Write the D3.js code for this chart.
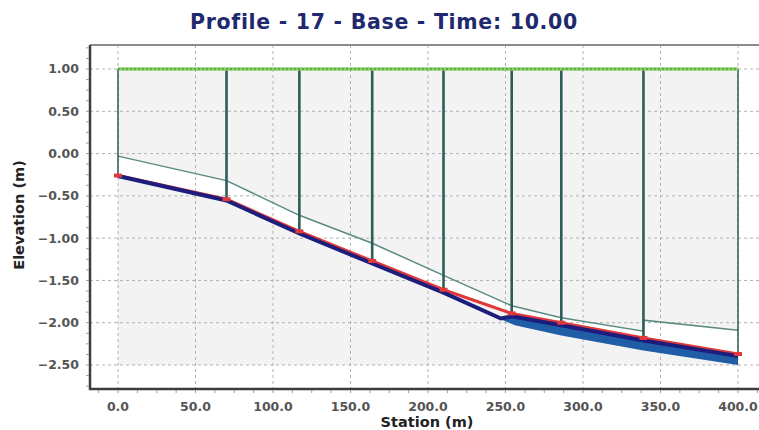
<!DOCTYPE html>
<html><head><meta charset="utf-8">
<script src="https://cdn.jsdelivr.net/npm/d3@7"></script>
<style>body{margin:0;background:#fff;}svg{display:block;}</style>
</head><body>
<script>
// ---- data ----
const title = "Profile - 17 - Base - Time: 10.00";
const xLabel = "Station (m)";
const yLabel = "Elevation (m)";
const xTicks = [0, 50, 100, 150, 200, 250, 300, 350, 400];
const yTicks = [1.0, 0.5, 0.0, -0.5, -1.0, -1.5, -2.0, -2.5];
const nodeStations = [0, 70, 117, 164, 210, 254, 286, 339, 400];
const bedElev = [-0.26, -0.54, -0.92, -1.27, -1.61, -1.89, -2.00, -2.18, -2.37];
const waterElev = [1.0, 1.0, 1.0, 1.0, 1.0, 1.0, 1.0, 1.0, 1.0];
const thinStations = [0, 70, 117, 164, 210, 254, 286, 339, 339, 400];
const thinElev = [-0.03, -0.32, -0.73, -1.06, -1.44, -1.80, -1.94, -2.10, -1.97, -2.09];
const navyStations = [0, 70, 117, 164, 210, 247, 254, 286, 339, 400];
const navyElev = [-0.265, -0.555, -0.945, -1.30, -1.645, -1.95, -1.925, -2.03, -2.21, -2.395];
const bandStations = [247, 256, 286, 339, 400];
const bandLower = [-1.96, -2.03, -2.15, -2.33, -2.50];

const W = 759, H = 430;
const svg = d3.select("body").append("svg").attr("width", W).attr("height", H);
const x = d3.scaleLinear().domain([0, 400]).range([118, 738]);
const y = d3.scaleLinear().domain([-2.5, 1.0]).range([365, 69]);
const frameL = 90, frameT = 45, frameB = 389, frameR = 762;

// background fill of profile region
svg.append("rect").attr("x", x(0)).attr("y", y(1.0)).attr("width", x(400) - x(0))
  .attr("height", y(-2.5) - y(1.0)).attr("fill", "#f3f3f3");

// white region between thin line and bed
const pts = thinStations.map((s, i) => [x(s), y(thinElev[i])]);
const bedPts = nodeStations.map((s, i) => [x(s), y(bedElev[i])]).reverse();
svg.append("path").attr("d", d3.line()(pts.concat(bedPts)) + "Z").attr("fill", "#ffffff");

// grid
const gridG = svg.append("g");
yTicks.forEach(t => gridG.append("line").attr("x1", frameL).attr("x2", frameR)
  .attr("y1", y(t)).attr("y2", y(t)).attr("stroke", "#aeb2b4").attr("stroke-width", 1).attr("stroke-dasharray", "3,3"));
xTicks.forEach(t => gridG.append("line").attr("x1", x(t)).attr("x2", x(t))
  .attr("y1", frameT).attr("y2", frameB).attr("stroke", "#aeb2b4").attr("stroke-width", 1).attr("stroke-dasharray", "3,3"));

// blue band
const bandArea = d3.area().x(d => x(d[0])).y0(d => y(d[2])).y1(d => y(d[1]));
const navyInterp = s => {
  for (let i = 0; i < navyStations.length - 1; i++) {
    if (s >= navyStations[i] && s <= navyStations[i + 1]) {
      const t = (s - navyStations[i]) / (navyStations[i + 1] - navyStations[i]);
      return navyElev[i] + t * (navyElev[i + 1] - navyElev[i]);
    }
  }
  return navyElev[navyElev.length - 1];
};
const bandData = bandStations.map((s, i) => [s, navyInterp(s), bandLower[i]]);
svg.append("path").datum(bandData).attr("d", bandArea).attr("fill", "#1f5ea6");

// thin line
svg.append("path").datum(thinStations.map((s, i) => [s, thinElev[i]]))
  .attr("d", d3.line().x(d => x(d[0])).y(d => y(d[1])))
  .attr("fill", "none").attr("stroke", "#5a8a80").attr("stroke-width", 1.5);

// red bed line
svg.append("path").datum(nodeStations.map((s, i) => [s, bedElev[i]]))
  .attr("d", d3.line().x(d => x(d[0])).y(d => y(d[1])))
  .attr("fill", "none").attr("stroke", "#e0383a").attr("stroke-width", 3);

// navy line
svg.append("path").datum(navyStations.map((s, i) => [s, navyElev[i]]))
  .attr("d", d3.line().x(d => x(d[0])).y(d => y(d[1])))
  .attr("fill", "none").attr("stroke", "#1d1d7e").attr("stroke-width", 4);

// verticals
nodeStations.forEach((s, i) => {
  const edge = (i === 0 || i === nodeStations.length - 1);
  svg.append("line").attr("x1", x(s)).attr("x2", x(s)).attr("y1", y(waterElev[i])).attr("y2", y(bedElev[i]))
    .attr("stroke", "#2e5d57").attr("stroke-width", edge ? 1.5 : 2.6);
});

// water surface line
const wsLine = d3.line().x(d => x(d[0])).y(d => y(d[1]));
const wsData = nodeStations.map((s, i) => [s, waterElev[i]]);
svg.append("path").datum(wsData).attr("d", wsLine).attr("fill", "none").attr("stroke", "#8fd06a").attr("stroke-width", 3.5);
svg.append("path").datum(wsData).attr("d", wsLine).attr("fill", "none").attr("stroke", "#4f9a3c").attr("stroke-width", 1.5).attr("stroke-dasharray", "2,2");

// red node markers
nodeStations.forEach((s, i) => {
  svg.append("rect").attr("x", x(s) - 4).attr("y", y(bedElev[i]) - 2).attr("width", 8).attr("height", 4)
    .attr("fill", "#e23a3c");
});

// frame
svg.append("line").attr("x1", frameL).attr("x2", frameR).attr("y1", frameT).attr("y2", frameT)
  .attr("stroke", "#8c8c8c").attr("stroke-width", 2);
svg.append("path").attr("d", `M${frameL},${frameT}V${frameB}H${frameR}`).attr("fill", "none")
  .attr("stroke", "#3c3c3c").attr("stroke-width", 2.5);

// minor ticks
const xMinor = d3.range(-12.5, 413, 12.5);
xMinor.forEach(t => svg.append("line").attr("x1", x(t)).attr("x2", x(t)).attr("y1", frameB + 1).attr("y2", frameB + 4)
  .attr("stroke", "#9a9a9a").attr("stroke-width", 1));
const yMinor = d3.range(-2.75, 1.3, 0.125);
yMinor.forEach(t => { if (y(t) > frameT && y(t) < frameB) svg.append("line").attr("x1", frameL - 4).attr("x2", frameL - 1)
  .attr("y1", y(t)).attr("y2", y(t)).attr("stroke", "#9a9a9a").attr("stroke-width", 1); });

// tick labels
const lblFont = "'DejaVu Sans', Verdana, sans-serif";
yTicks.forEach(t => svg.append("text").attr("x", 79).attr("y", y(t)).attr("dy", "0.35em")
  .attr("text-anchor", "end").attr("font-family", lblFont).attr("font-weight", "bold").attr("font-size", 12.5)
  .attr("fill", "#555").text(d3.format(".2f")(t)));
xTicks.forEach(t => svg.append("text").attr("x", x(t)).attr("y", 407).attr("dy", "0.35em")
  .attr("text-anchor", "middle").attr("font-family", lblFont).attr("font-weight", "bold").attr("font-size", 12.5)
  .attr("fill", "#555").text(d3.format(".1f")(t)));

// axis titles
svg.append("text").attr("x", 427).attr("y", 422).attr("dy", "0.35em").attr("text-anchor", "middle")
  .attr("font-family", lblFont).attr("font-weight", "bold").attr("font-size", 14.5).attr("fill", "#222").text(xLabel);
svg.append("text").attr("transform", "translate(19,215) rotate(-90)").attr("dy", "0.35em").attr("text-anchor", "middle")
  .attr("font-family", lblFont).attr("font-weight", "bold").attr("font-size", 14.5).attr("fill", "#222").text(yLabel);

// title
svg.append("text").attr("x", 384).attr("y", 22).attr("dy", "0.35em").attr("text-anchor", "middle")
  .attr("font-family", lblFont).attr("font-weight", "bold").attr("font-size", 20.5).attr("letter-spacing", 0.7)
  .attr("fill", "#1f2a6e").text(title);
</script>
</body></html>
